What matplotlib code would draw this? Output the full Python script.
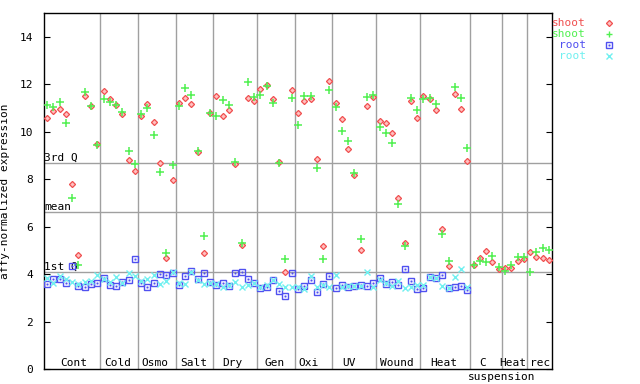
import matplotlib
matplotlib.use("Agg")
import matplotlib.pyplot as plt
import matplotlib.transforms as mtransforms
import numpy as np

# groups of samples along x (sample counts per condition)
GROUPS = ["Cont", "Cold", "Osmo", "Salt", "Dry", "Gen", "Oxi", "UV", "Wound",
          "Heat", "C", "Heat", "rec"]
GROUP_SIZES = [9, 6, 6, 6, 7, 6, 6, 7, 7, 8, 5, 4, 4]
LABEL_X = [4.3, 11.3, 17.2, 23.3, 29.6, 36.2, 41.6, 48.1, 55.8, 63.3, 69.5, 74.3, 78.6]

# shoot (red diamond / green plus), 81 samples
shoot_red = [10.59, 10.85, 10.95, 10.74, 7.80, 4.79, 11.50, 11.08, 9.48,
             11.72, 11.37, 11.12, 10.74, 8.80, 8.33,
             10.66, 11.16, 10.40, 8.69, 4.67, 7.96,
             11.22, 11.41, 11.16, 9.14, 4.89, 10.78,
             11.50, 10.66, 10.91, 8.65, 5.23, 11.41, 11.29,
             11.79, 11.96, 11.37, 8.73, 4.09, 11.75,
             10.78, 11.29, 11.37, 8.84, 5.17, 12.13,
             11.20, 10.53, 9.26, 8.17, 5.01, 11.08, 11.46,
             10.45, 10.36, 9.94, 7.20, 5.30, 11.29, 10.57,
             11.50, 11.37, 10.91, 5.90, 4.33, 11.58, 10.95, 8.76,
             4.37, 4.67, 4.98, 4.50, 4.20,
             4.25, 4.25, 4.54, 4.63,
             4.92, 4.71, 4.67, 4.58]
shoot_green = [11.12, 11.04, 11.26, 10.36, 7.21, 4.37, 11.67, 11.08, 9.43,
               11.37, 11.25, 11.12, 10.84, 9.17, 8.65,
               10.74, 10.99, 9.85, 8.29, 4.89, 8.59,
               11.08, 11.84, 11.54, 9.18, 5.60, 10.78,
               10.66, 11.35, 11.12, 8.73, 5.31, 12.09, 11.46,
               11.54, 11.92, 11.20, 8.69, 4.63, 11.41,
               10.28, 11.50, 11.50, 8.46, 4.63, 11.75,
               11.04, 10.02, 9.60, 8.25, 5.47, 11.46, 11.54,
               10.19, 9.94, 9.52, 6.94, 5.17, 11.41, 10.91,
               11.37, 11.41, 11.16, 5.69, 4.55, 11.88, 11.41, 9.31,
               4.37, 4.54, 4.50, 4.75, 4.29,
               4.12, 4.37, 4.71, 4.71,
               4.08, 4.92, 5.09, 5.01]
# root (blue square / cyan x), first 68 samples only
root_blue = [3.57, 3.78, 3.78, 3.61, 4.33, 3.49, 3.45, 3.57, 3.61,
             3.82, 3.53, 3.49, 3.66, 3.74, 4.63,
             3.61, 3.47, 3.61, 3.99, 3.95, 4.04,
             3.53, 3.91, 4.12, 3.78, 4.04, 3.66,
             3.53, 3.61, 3.49, 4.04, 4.08, 3.78, 3.61,
             3.40, 3.45, 3.74, 3.28, 3.07, 4.04,
             3.36, 3.49, 3.74, 3.23, 3.57, 3.91,
             3.40, 3.53, 3.45, 3.49, 3.53, 3.49, 3.61,
             3.82, 3.57, 3.66, 3.53, 4.20, 3.70, 3.36,
             3.40, 3.87, 3.82, 3.95, 3.40, 3.45, 3.49, 3.32]
root_cyan = [3.82, 3.61, 3.91, 3.78, 3.66, 3.57, 3.66, 3.70, 3.95,
             3.78, 3.66, 3.87, 3.61, 4.05, 3.91,
             3.70, 3.78, 3.95, 3.57, 3.70, 4.08,
             3.61, 3.57, 4.08, 3.74, 3.57, 3.61,
             3.57, 3.45, 3.53, 3.66, 3.45, 3.53, 3.61,
             3.45, 3.53, 3.74, 3.57, 3.45, 3.45,
             3.45, 3.36, 3.91, 3.45, 3.53, 3.45,
             3.95, 3.45, 3.49, 3.49, 3.49, 4.08, 3.45,
             3.74, 3.61, 3.49, 3.70, 3.40, 3.45, 3.53,
             3.53, 3.87, 3.82, 3.49, 3.42, 3.87, 4.20, 3.45]

Q3, MEAN, Q1 = 8.67, 6.61, 4.08

RED, GREEN, BLUE, CYAN = "#f05050", "#50f050", "#5050f0", "#70f0f0"
GRID = "#a0a0a0"
RED_FILL = "#ffc0c0"

plt.rcParams["font.family"] = ["DejaVu Sans Mono"]
plt.rcParams["font.size"] = 8

fig = plt.figure(figsize=(6.4, 3.84), dpi=100)
ax = fig.add_axes([44 / 640, 15 / 384, 508 / 640, 356 / 384])

n = len(shoot_red)
x = np.arange(n)
xr = np.arange(len(root_blue))

ax.plot(x, shoot_red, ls="none", marker="D", ms=3.1, mfc=RED_FILL, mec=RED, mew=0.9, zorder=4)
ax.plot(x, shoot_green, ls="none", marker="+", ms=6, mec=GREEN, mew=1.1, zorder=4)
ax.plot(xr, root_blue, ls="none", marker="s", ms=4.4, mfc="none", mec=BLUE, mew=1.0, zorder=4)
ax.plot(xr, root_blue, ls="none", marker="s", ms=1.0, mfc=BLUE, mec=BLUE, mew=0.3, zorder=4)
ax.plot(xr, root_cyan, ls="none", marker="x", ms=4.4, mec=CYAN, mew=1.0, zorder=5)

# condition separators
bounds = np.cumsum(GROUP_SIZES)[:-1] - 0.5
for b in bounds:
    ax.axvline(b, color=GRID, lw=1.0, zorder=1)

# quartile / mean lines
trans = mtransforms.blended_transform_factory(ax.transAxes, ax.transData)
for val, lab in [(Q3, "3rd Q"), (MEAN, "mean"), (Q1, "1st Q")]:
    ax.axhline(val, color=GRID, lw=1.0, zorder=1)
    ax.text(0.0, val + 0.02, lab, transform=trans, ha="left", va="bottom", zorder=3)

# group labels along the bottom
tb = mtransforms.blended_transform_factory(ax.transData, ax.transAxes)
for lx, g in zip(LABEL_X, GROUPS):
    ax.text(lx, 0.016, g, transform=tb, ha="center", va="center")
ax.text(72.5, -0.022, "suspension", transform=tb, ha="center", va="center", clip_on=False)

ax.set_xlim(-0.5, n - 0.5)
ax.set_ylim(0, 15)
ax.set_yticks(range(0, 15, 2))
ax.set_xticks([])
ax.tick_params(axis="y", direction="in", length=4, width=0.8, right=True, pad=8)
for s in ax.spines.values():
    s.set_linewidth(1.0)
ax.set_ylabel("affy-normalized expression")
ax.yaxis.set_label_coords(-0.066, 0.5)

# legend outside on the right
for k, (lab, col, mk) in enumerate([("shoot", RED, "D"), ("shoot", GREEN, "+"),
                                    ("root", BLUE, "s"), ("root", CYAN, "x")]):
    yy = 1 - (23.3 + 11 * k) / 384
    fig.text(586 / 640, yy, lab, color=col, ha="right", va="center")
    if mk == "D":
        fig.lines.append(plt.Line2D([609 / 640], [yy], transform=fig.transFigure, ls="none",
                                    marker="D", ms=3.1, mfc=RED_FILL, mec=col, mew=0.9))
    elif mk == "s":
        fig.lines.append(plt.Line2D([609 / 640], [yy], transform=fig.transFigure, ls="none",
                                    marker="s", ms=4.4, mfc="none", mec=col, mew=1.0))
        fig.lines.append(plt.Line2D([609 / 640], [yy], transform=fig.transFigure, ls="none",
                                    marker="s", ms=1.0, mfc=col, mec=col, mew=0.3))
    else:
        fig.lines.append(plt.Line2D([609 / 640], [yy], transform=fig.transFigure, ls="none",
                                    marker=mk, ms=5, mec=col, mew=1.0))

fig.savefig("out.png", dpi=100)
